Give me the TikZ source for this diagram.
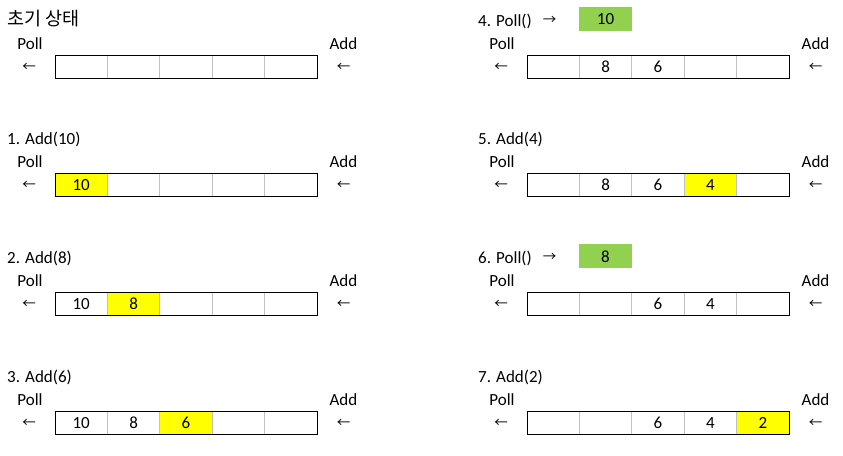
\documentclass[tikz,border=0pt]{standalone}
\usepackage{fontspec}
\setmainfont{Carlito}
\newfontfamily\krfont{Noto Sans CJK KR}
\definecolor{newyellow}{HTML}{FFFF00}
\definecolor{pollgreen}{HTML}{92D050}
\definecolor{celllinegray}{HTML}{C0C0C0}

\newcommand\qtextstyle{\fontsize{17}{20}\selectfont}
\newcommand\qtitlestyle{\krfont\fontsize{18.5}{22}\selectfont}
\newcommand\qarrowstyle{\krfont\fontsize{13.5}{16}\selectfont}
\newcommand\qcellwidth{52.4}
\newcommand\qcellheight{23}
\newcommand\startqueue{\pgfmathsetmacro\x{55}\pgfmathtruncatemacro\qn{0}}
\newcommand\qcellc[2]{
  \pgfmathtruncatemacro\qn{\qn + 1}
  \node[qcell, fill=#1] (cell\qn) at (\x + .5 * \qcellwidth, 66.5) {#2};
  \pgfmathsetmacro\x{\x + \qcellwidth}
}
\newcommand\qcell[1]{\qcellc{white}{#1}}
\newcommand\qcellnew[1]{\qcellc{newyellow}{#1}}
\newcommand\qends{
  \draw[qframe] (cell1.north west) rectangle (cell5.south east);
  \node[qtext] (poll) at (30, 49) {Poll};
  \node[qtext] (add) at (343.5, 49) {Add};
  \node[qarrow] (pollend) at (29, 67) {←};
  \node[qarrow] (addend) at (343.5, 67) {←};
}
\newcommand\qresult[1]{
  \node[qarrow] (out) at (77.5, 20) {→};
  \node[qresultbox] (result) at (133.5, 19) {#1};
}

\begin{document}
\begin{tikzpicture}[x=1pt, y=-1pt,
    qcell/.style={draw=celllinegray, line width=.8pt, minimum width=\qcellwidth pt,
      minimum height=\qcellheight pt, inner sep=0pt, outer sep=0pt, font=\qtextstyle},
    qframe/.style={draw=black, line width=.9pt},
    qtext/.style={anchor=base, inner sep=0pt, font=\qtextstyle},
    qlabel/.style={anchor=base west, inner sep=0pt, font=\qtextstyle},
    qarrow/.style={inner sep=0pt, font=\qarrowstyle},
    qresultbox/.style={fill=pollgreen, minimum width=\qcellwidth pt, minimum height=24pt,
      inner sep=0pt, font=\qtextstyle}]
  \useasboundingbox (0, 0) rectangle (843, 455);
  \begin{scope}[name prefix=s0-]
    \node[anchor=base west, inner sep=0pt, font=\qtitlestyle] (step) at (7, 25) {초기 상태};
    \startqueue
    \qcell{} \qcell{} \qcell{} \qcell{} \qcell{}
    \qends
  \end{scope}
  \begin{scope}[shift={(0, 118.7)}, name prefix=s1-]
    \node[qlabel] (step) at (7, 26) {1. Add(10)};
    \startqueue
    \qcellnew{10} \qcell{} \qcell{} \qcell{} \qcell{}
    \qends
  \end{scope}
  \begin{scope}[shift={(0, 237.4)}, name prefix=s2-]
    \node[qlabel] (step) at (7, 26) {2. Add(8)};
    \startqueue
    \qcell{10} \qcellnew{8} \qcell{} \qcell{} \qcell{}
    \qends
  \end{scope}
  \begin{scope}[shift={(0, 356.1)}, name prefix=s3-]
    \node[qlabel] (step) at (7, 26) {3. Add(6)};
    \startqueue
    \qcell{10} \qcell{8} \qcellnew{6} \qcell{} \qcell{}
    \qends
  \end{scope}
  \begin{scope}[shift={(472, 0)}, name prefix=s4-]
    \node[qlabel] (step) at (6, 26) {4. Poll()};
    \qresult{10}
    \startqueue
    \qcell{} \qcell{8} \qcell{6} \qcell{} \qcell{}
    \qends
  \end{scope}
  \begin{scope}[shift={(472, 118.7)}, name prefix=s5-]
    \node[qlabel] (step) at (6, 26) {5. Add(4)};
    \startqueue
    \qcell{} \qcell{8} \qcell{6} \qcellnew{4} \qcell{}
    \qends
  \end{scope}
  \begin{scope}[shift={(472, 237.4)}, name prefix=s6-]
    \node[qlabel] (step) at (6, 26) {6. Poll()};
    \qresult{8}
    \startqueue
    \qcell{} \qcell{} \qcell{6} \qcell{4} \qcell{}
    \qends
  \end{scope}
  \begin{scope}[shift={(472, 356.1)}, name prefix=s7-]
    \node[qlabel] (step) at (6, 26) {7. Add(2)};
    \startqueue
    \qcell{} \qcell{} \qcell{6} \qcell{4} \qcellnew{2}
    \qends
  \end{scope}
\end{tikzpicture}
\end{document}
